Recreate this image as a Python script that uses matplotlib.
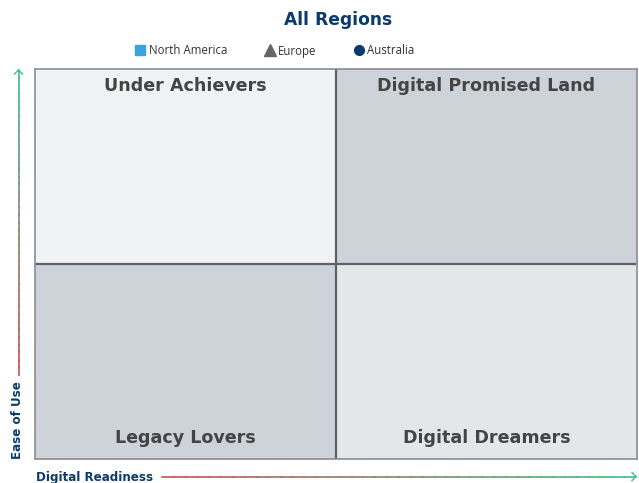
import matplotlib
matplotlib.use("Agg")
import matplotlib.pyplot as plt
import numpy as np
from matplotlib.collections import LineCollection
from matplotlib.lines import Line2D

title = "All Regions"
series = ["North America", "Europe", "Australia"]
series_markers = ["s", "^", "o"]
series_colors = ["#3aa3dc", "#666666", "#0b3a6e"]
quadrants = ["Under Achievers", "Digital Promised Land", "Legacy Lovers", "Digital Dreamers"]
quad_colors = ["#f1f2f4", "#ced2d9", "#ced2d9", "#e4e7ea"]
x_label = "Digital Readiness"
y_label = "Ease of Use"

navy = "#0b3a6e"
W, H = 639, 483
fig = plt.figure(figsize=(W / 100, H / 100), dpi=100)
ax = fig.add_axes([35 / W, 1 - 459 / H, 602 / W, 390 / H])
ax.set_xlim(0, 2)
ax.set_ylim(0, 2)
ax.set_xticks([])
ax.set_yticks([])
for s in ax.spines.values():
    s.set_color("#8a8d92")
    s.set_linewidth(1.2)

pos = [(0, 1), (1, 1), (0, 0), (1, 0)]
for (x0, y0), c in zip(pos, quad_colors):
    ax.add_patch(plt.Rectangle((x0, y0), 1, 1, color=c, zorder=0))
ax.axvline(1, color="#5d6169", lw=1.6, zorder=1)
ax.axhline(1, color="#5d6169", lw=1.6, zorder=1)

tfont = dict(family="DejaVu Sans", weight="bold", fontsize=12.6, color="#444444")
ax.text(0.5, 1.915, quadrants[0], ha="center", va="center", **tfont)
ax.text(1.5, 1.915, quadrants[1], ha="center", va="center", **tfont)
ax.text(0.5, 0.11, quadrants[2], ha="center", va="center", **tfont)
ax.text(1.5, 0.11, quadrants[3], ha="center", va="center", **tfont)

fig.text(338 / W, 1 - 20 / H, title, ha="center", va="center",
         family="DejaVu Sans", weight="bold", fontsize=12.3, color=navy)

handles = [Line2D([], [], marker=m, color=c, linestyle="none", markersize=ms)
           for m, c, ms in zip(series_markers, series_colors, [7, 8, 7])]
fig.legend(handles, series, loc="center", bbox_to_anchor=(275 / W, 1 - 51 / H),
           ncol=3, frameon=False, prop=dict(family="Open Sans", size=8.3),
           handletextpad=0.3, columnspacing=3.3, handlelength=0.8,
           labelcolor="#333333")

fig.text(36 / W, 1 - 477 / H, x_label, ha="left", va="center",
         family="DejaVu Sans", weight="bold", fontsize=8.6, color=navy)
fig.text(18 / W, 1 - 420 / H, y_label, ha="center", va="center", rotation=90,
         family="DejaVu Sans", weight="bold", fontsize=8.6, color=navy)

red = np.array(matplotlib.colors.to_rgb("#c9505a"))
green = np.array(matplotlib.colors.to_rgb("#3cc08a"))

def grad_line(x0, y0, x1, y1, n=40):
    xs = np.linspace(x0, x1, n + 1)
    ys = np.linspace(y0, y1, n + 1)
    segs = [[(xs[i] / W, 1 - ys[i] / H), (xs[i + 1] / W, 1 - ys[i + 1] / H)] for i in range(n)]
    t = np.linspace(0, 1, n)[:, None]
    cols = red * (1 - t) + green * t
    lc = LineCollection(segs, colors=cols, linewidths=1.2, transform=fig.transFigure,
                        capstyle="projecting")
    fig.add_artist(lc)

grad_line(162, 476.5, 636, 476.5)
grad_line(18.5, 375, 18.5, 70)
fig.add_artist(Line2D([632 / W, 636 / W, 632 / W], [1 - 472.5 / H, 1 - 476.5 / H, 1 - 480.5 / H],
                      transform=fig.transFigure, color=green, lw=1.0))
fig.add_artist(Line2D([14.5 / W, 18.5 / W, 22.5 / W], [1 - 74 / H, 1 - 70 / H, 1 - 74 / H],
                      transform=fig.transFigure, color=green, lw=1.0))

fig.savefig("out.png", dpi=100)
